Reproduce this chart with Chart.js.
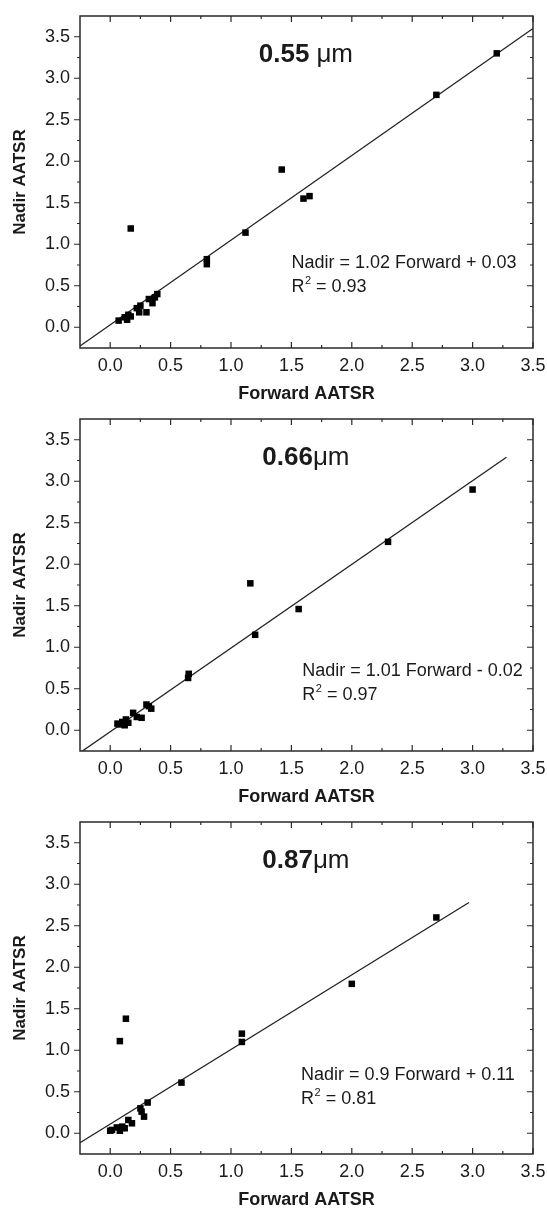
<!DOCTYPE html>
<html lang="en">
<head>
    <meta charset="UTF-8">
    <script src="https://cdn.jsdelivr.net/npm/chart.js@4.4.0/dist/chart.umd.min.js"></script>
    <title>Nadir vs Forward AATSR</title>
    <style>
        body { margin: 0; background: #fff; }
        .panel { width: 547px; height: 403px; }
    </style>
</head>
<body>

    <div class="panel"><canvas id="c055" width="547" height="403"></canvas></div>
    <div class="panel"><canvas id="c066" width="547" height="403"></canvas></div>
    <div class="panel"><canvas id="c087" width="547" height="403"></canvas></div>

    <script>
        // axis ticks shared by all three panels
        const tickValues = [0.0, 0.5, 1.0, 1.5, 2.0, 2.5, 3.0, 3.5];
        const tickLabels = ['0.0', '0.5', '1.0', '1.5', '2.0', '2.5', '3.0', '3.5'];

        // 0.55 um
        const fwd055 = [3.2, 2.7, 1.42, 1.6, 1.65, 1.12, 0.8, 0.8, 0.17, 0.07, 0.12, 0.15, 0.14, 0.17, 0.22, 0.24, 0.25, 0.3, 0.32, 0.35, 0.37, 0.39];
        const nad055 = [3.3, 2.8, 1.9, 1.55, 1.58, 1.14, 0.82, 0.76, 1.19, 0.08, 0.12, 0.15, 0.09, 0.13, 0.23, 0.18, 0.26, 0.18, 0.34, 0.29, 0.36, 0.40];
        const fitX055 = [-0.25, 3.5];
        const fitY055 = [-0.225, 3.6];

        // 0.66 um
        const fwd066 = [3.0, 2.3, 1.16, 1.56, 1.2, 0.65, 0.645, 0.3, 0.34, 0.19, 0.22, 0.26, 0.13, 0.06, 0.1, 0.12, 0.15, 0.08, 0.32];
        const nad066 = [2.9, 2.27, 1.77, 1.46, 1.15, 0.68, 0.63, 0.31, 0.26, 0.21, 0.16, 0.15, 0.13, 0.08, 0.1, 0.06, 0.09, 0.07, 0.29];
        const fitX066 = [-0.25, 3.28];
        const fitY066 = [-0.27, 3.29];

        // 0.87 um
        const fwd087 = [2.7, 2.0, 0.13, 0.08, 1.09, 1.09, 0.59, 0.31, 0.25, 0.26, 0.28, 0.15, 0.18, 0.1, 0.055, 0.015, 0.0, 0.08, 0.12];
        const nad087 = [2.6, 1.8, 1.38, 1.11, 1.2, 1.1, 0.61, 0.37, 0.3, 0.26, 0.2, 0.16, 0.12, 0.08, 0.07, 0.04, 0.03, 0.03, 0.06];
        const fitX087 = [-0.25, 2.97];
        const fitY087 = [-0.115, 2.78];

        const FONT = '"Liberation Sans", Arial, sans-serif';
        const INK = '#1a1a1a';

        // box round the plot, ticks inward except on the left axis
        const frameTicks = {
            id: 'frameTicks',
            afterDatasetsDraw(chart) {
                const { ctx, chartArea: a, scales: { x, y } } = chart;
                const minor = tickValues.slice(0, -1).map(v => v + 0.25);
                ctx.save();
                ctx.strokeStyle = '#2a2a2a';
                ctx.lineWidth = 1.5;
                ctx.strokeRect(a.left, a.top, a.right - a.left, a.bottom - a.top);
                ctx.lineWidth = 1.2;
                ctx.beginPath();
                const mark = (vals, len) => {
                    vals.forEach(v => {
                        const px = x.getPixelForValue(v);
                        ctx.moveTo(px, a.bottom); ctx.lineTo(px, a.bottom - len);
                        ctx.moveTo(px, a.top); ctx.lineTo(px, a.top + len);
                        const py = y.getPixelForValue(v);
                        ctx.moveTo(a.left, py); ctx.lineTo(a.left - len, py);
                        ctx.moveTo(a.right, py); ctx.lineTo(a.right - len, py);
                    });
                };
                mark(tickValues, 6);
                mark(minor, 3);
                ctx.stroke();
                ctx.restore();
            }
        };

        // wavelength title and regression text
        const notes = {
            id: 'notes',
            afterDatasetsDraw(chart, args, o) {
                const { ctx, scales: { x, y } } = chart;
                ctx.save();
                ctx.fillStyle = INK;
                ctx.textBaseline = 'middle';
                ctx.textAlign = 'left';

                ctx.font = 'bold 26px ' + FONT;
                const w1 = ctx.measureText(o.wave).width;
                ctx.font = '26px ' + FONT;
                const w2 = ctx.measureText('\u03bcm').width;
                const tx = x.getPixelForValue(o.titleAt[0]) - (w1 + o.gap + w2) / 2;
                const ty = y.getPixelForValue(o.titleAt[1]);
                ctx.font = 'bold 26px ' + FONT;
                ctx.fillText(o.wave, tx, ty);
                ctx.font = '26px ' + FONT;
                ctx.fillText('\u03bcm', tx + w1 + o.gap, ty);

                ctx.font = '18px ' + FONT;
                const ex = x.getPixelForValue(o.eqAt[0]);
                ctx.fillText(o.eq, ex, y.getPixelForValue(o.eqAt[1]));
                const ry = y.getPixelForValue(o.eqAt[2]);
                ctx.fillText('R', ex, ry);
                const rw = ctx.measureText('R').width;
                ctx.font = '11px ' + FONT;
                ctx.fillText('2', ex + rw + 0.5, ry - 6);
                const sw = ctx.measureText('2').width;
                ctx.font = '18px ' + FONT;
                ctx.fillText(' = ' + o.r2, ex + rw + 0.5 + sw, ry);
                ctx.restore();
            }
        };

        function pts(xs, ys) {
            return xs.map((v, i) => ({ x: v, y: ys[i] }));
        }

        function drawPanel(id, fwd, nad, fitX, fitY, note) {
            const ctx = document.getElementById(id).getContext('2d');
            return new Chart(ctx, {
                type: 'scatter',
                data: {
                    datasets: [{
                        data: pts(fwd, nad),
                        pointStyle: 'rect',
                        pointRadius: 4.6,
                        backgroundColor: '#000',
                        borderWidth: 0
                    }, {
                        data: pts(fitX, fitY),
                        showLine: true,
                        borderColor: '#222',
                        borderWidth: 1.3,
                        pointRadius: 0
                    }]
                },
                options: {
                    responsive: false,
                    animation: false,
                    devicePixelRatio: 1,
                    layout: { padding: { top: 16, right: 14, bottom: 0, left: 0 } },
                    plugins: {
                        legend: { display: false },
                        tooltip: { enabled: false },
                        notes: note
                    },
                    scales: {
                        x: {
                            type: 'linear', min: -0.25, max: 3.5,
                            grid: { display: false, drawTicks: false },
                            border: { display: false },
                            ticks: {
                                font: { family: FONT, size: 18 }, color: INK, padding: 7,
                                maxRotation: 0, autoSkip: false, includeBounds: false,
                                callback: v => tickLabels[tickValues.indexOf(v)]
                            },
                            afterBuildTicks: s => { s.ticks = tickValues.map(v => ({ value: v })); },
                            afterFit: s => { s.height = 55; s.paddingLeft = 0; s.paddingRight = 0; },
                            title: {
                                display: true, text: 'Forward AATSR', color: INK,
                                font: { family: FONT, size: 18, weight: 'bold' },
                                padding: { top: 0, bottom: -2 }
                            }
                        },
                        y: {
                            type: 'linear', min: -0.25, max: 3.75,
                            grid: { display: false, drawTicks: false },
                            border: { display: false },
                            ticks: {
                                font: { family: FONT, size: 18 }, color: INK, padding: 10,
                                autoSkip: false, includeBounds: false,
                                callback: v => tickLabels[tickValues.indexOf(v)]
                            },
                            afterBuildTicks: s => { s.ticks = tickValues.map(v => ({ value: v })); },
                            afterFit: s => { s.width = 80; s.paddingTop = 0; s.paddingBottom = 0; },
                            title: {
                                display: true, text: 'Nadir AATSR', color: INK,
                                font: { family: FONT, size: 17, weight: 'bold' },
                                padding: { top: 10, bottom: 0 }
                            }
                        }
                    }
                },
                plugins: [frameTicks, notes]
            });
        }

        drawPanel('c055', fwd055, nad055, fitX055, fitY055, {
            wave: '0.55', gap: 7, titleAt: [1.62, 3.28],
            eq: 'Nadir = 1.02 Forward + 0.03', r2: '0.93', eqAt: [1.5, 0.77, 0.48]
        });
        drawPanel('c066', fwd066, nad066, fitX066, fitY066, {
            wave: '0.66', gap: 0, titleAt: [1.62, 3.28],
            eq: 'Nadir = 1.01 Forward - 0.02', r2: '0.97', eqAt: [1.59, 0.71, 0.43]
        });
        drawPanel('c087', fwd087, nad087, fitX087, fitY087, {
            wave: '0.87', gap: 0, titleAt: [1.62, 3.28],
            eq: 'Nadir = 0.9 Forward + 0.11', r2: '0.81', eqAt: [1.58, 0.7, 0.41]
        });
    </script>
</body>
</html>
